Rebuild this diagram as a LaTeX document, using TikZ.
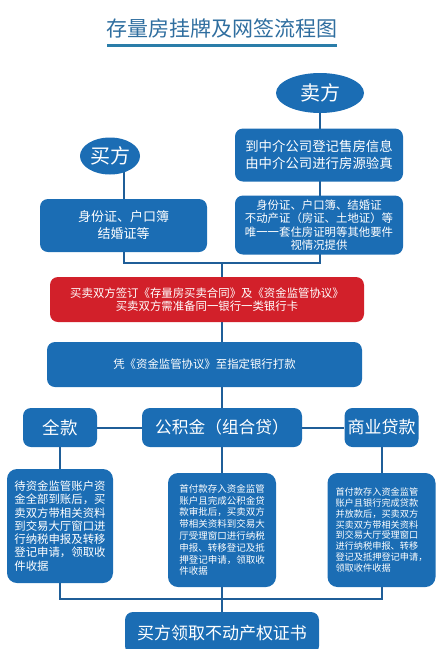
\documentclass[tikz,border=0pt]{standalone}
\usepackage{fontspec}
\setmainfont{Noto Sans CJK SC}
\usetikzlibrary{shapes.geometric,backgrounds}
\definecolor{boxblue}{HTML}{1B6DB4}
\definecolor{boxred}{HTML}{D2202A}
\definecolor{linkblue}{HTML}{1F5E98}
\definecolor{titleblue}{HTML}{2F6E9F}
\newcommand{\fs}[2]{\fontsize{#1}{#2}\selectfont}
\tikzset{
  role/.style    = {ellipse, fill=boxblue, text=white, inner sep=0pt, font=\fs{20}{24}},
  infobox/.style = {rectangle, rounded corners=8pt, fill=boxblue, text=white, align=center, inner sep=0pt},
  redbox/.style  = {infobox, fill=boxred},
  notebox/.style = {infobox, rounded corners=10pt, align=left},
  link/.style    = {draw=linkblue, line width=2pt},
}

\begin{document}
\begin{tikzpicture}[x=1pt,y=-1pt]
  \useasboundingbox (0,0) rectangle (439,649);
  \clip (0,0) rectangle (439,649);
  \node[text=titleblue, font=\fs{21}{24}] (title) at (222,28) {存量房挂牌及网签流程图};
  \draw[draw=titleblue!90!cyan, line width=3pt] (107,45) -- (337,45);

  \node[role, minimum width=88pt, minimum height=40pt] (seller) at (320,93) {卖方};
  \node[role, minimum width=60pt, minimum height=37pt] (buyer)  at (110,156) {买方};
  \node[infobox, minimum width=168pt, minimum height=53pt, font=\fs{13.4}{16.5}] (sinfo) at (319,155)
    {到中介公司登记售房信息\\由中介公司进行房源验真};
  \node[infobox, minimum width=168pt, minimum height=59pt, font=\fs{11.4}{13.3}] (sdocs) at (319,225)
    {身份证、户口簿、结婚证\\不动产证（房证、土地证）等\\唯一一套住房证明等其他要件\\视情况提供};
  \node[infobox, minimum width=167pt, minimum height=53pt, font=\fs{13}{17}] (bdocs) at (123.5,225.5)
    {身份证、户口簿\\结婚证等};
  \node[redbox, minimum width=314pt, minimum height=45pt, font=\fs{11.4}{12.5}] (sign) at (207,299.5)
    {买卖双方签订《存量房买卖合同》及《资金监管协议》\\买卖双方需准备同一银行一类银行卡};
  \node[infobox, minimum width=315pt, minimum height=45pt, font=\fs{11.4}{13}] (pay) at (204.5,364.5)
    {凭《资金监管协议》至指定银行打款};

  \node[infobox, minimum width=74pt,  minimum height=39pt, font=\fs{17.5}{20}] (full) at (60,427.5)    {全款};
  \node[infobox, minimum width=160pt, minimum height=39pt, font=\fs{16.7}{20}] (fund) at (222,427.5)   {公积金（组合贷）};
  \node[infobox, minimum width=74pt,  minimum height=39pt, font=\fs{17}{20}]   (loan) at (381.5,427.5) {商业贷款};

  \node[notebox, minimum width=106pt, minimum height=114pt, font=\fs{11.4}{13.3}] (fullnote) at (60,526)
    {待资金监管账户资\\金全部到账后，买\\卖双方带相关资料\\到交易大厅窗口进\\行纳税申报及转移\\登记申请，领取收\\件收据};
  \node[notebox, minimum width=108pt, minimum height=114pt, font=\fs{9.5}{11.8}] (fundnote) at (222,530)
    {首付款存入资金监管\\账户且完成公积金贷\\款审批后，买卖双方\\带相关资料到交易大\\厅受理窗口进行纳税\\申报、转移登记及抵\\押登记申请，领取收\\件收据};
  \node[notebox, minimum width=108pt, minimum height=114pt, font=\fs{9.2}{10.8}] (loannote) at (381.5,530)
    {首付款存入资金监管\\账户且银行完成贷款\\并放款后，买卖双方\\买卖双方带相关资料\\到交易大厅受理窗口\\进行纳税申报、转移\\登记及抵押登记申请，\\领取收件收据};

  \node[infobox, minimum width=194pt, minimum height=42pt, font=\fs{17}{20}] (cert) at (222,633)
    {买方领取不动产权证书};

  \coordinate (jtop) at (222,263);
  \coordinate (jbot) at (222,599);
  \begin{pgfonlayer}{background}
    \draw[link] (seller) -- (seller |- jtop) -| (buyer -| bdocs);
    \draw[link] (jtop) -- (fund);
    \draw[link] (full) -- (loan);
    \draw[link] (full) -- (fullnote);
    \draw[link] (loan) -- (loannote);
    \draw[link] (fund) -- (cert);
    \draw[link] (fullnote) |- (jbot) -| (loannote);
  \end{pgfonlayer}
\end{tikzpicture}
\end{document}
